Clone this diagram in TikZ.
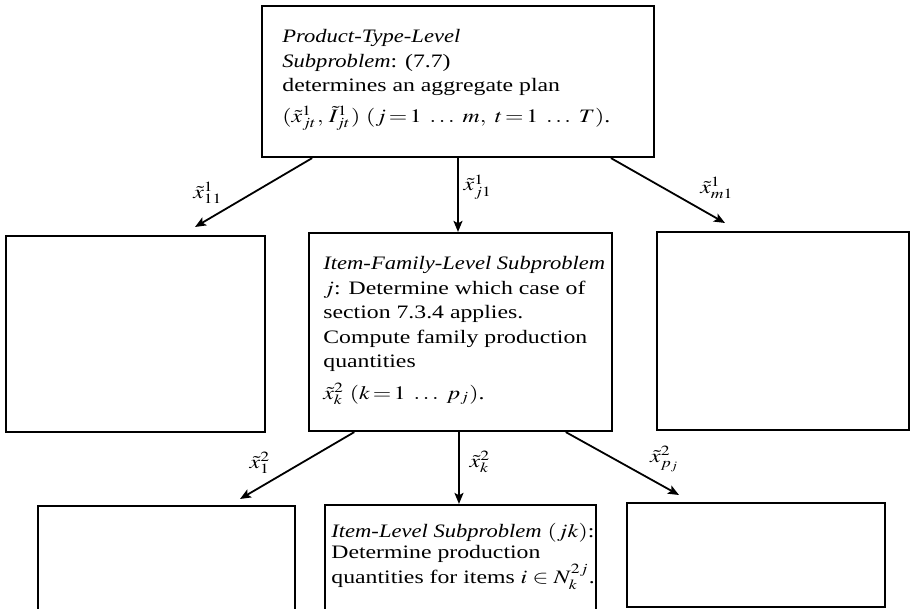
\documentclass[tikz,border=0pt]{standalone}
\usepackage{mathptmx}
\usepackage[no-math]{fontspec}
\setmainfont{Liberation Serif}
\usepackage{graphicx}
\usetikzlibrary{arrows.meta,calc}
\newcommand\wbox[1]{\scalebox{1.25}[1]{#1}}
\newcommand\itx[1]{\scalebox{0.95}[1]{\textit{#1}}}
\tikzset{
  boxnode/.style={draw, line width=1.1pt, inner sep=0pt},
  txt/.style={anchor=north west, inner sep=0pt, font=\fontsize{9.5}{12.25}\selectfont},
  lbl/.style={inner sep=0pt, font=\fontsize{9.5}{11.9}\selectfont},
  arr/.style={line width=0.9pt, -{Stealth[length=5.5pt,width=4.5pt,inset=1.2pt]}}
}
\begin{document}
\begin{tikzpicture}[x=0.5pt,y=-0.5pt]
\clip (0,0) rectangle (912,609);
\fill[white] (0,0) rectangle (912,609);
% boxes
\node[boxnode, minimum width=196pt, minimum height=75.5pt] (top) at (458,81.5) {};
\node[boxnode, minimum width=129.5pt, minimum height=98pt] (lm) at (135.5,334) {};
\node[boxnode, minimum width=151.5pt, minimum height=99pt] (mm) at (460.5,332) {};
\node[boxnode, minimum width=126pt, minimum height=99pt] (rm) at (783,331) {};
\node[boxnode, minimum width=128.5pt, minimum height=67pt] (lb) at (166.5,573) {};
\node[boxnode, minimum width=135.5pt, minimum height=67.5pt] (mb) at (460.5,572.5) {};
\node[boxnode, minimum width=129pt, minimum height=52pt] (rb) at (756,555) {};
% texts
\node[txt] (ttop) at (282,25) {\wbox{\begin{tabular}{@{}l@{}}
\itx{Product-Type-Level}\\
\itx{Subproblem}: (7.7)\\
determines an aggregate plan\\[3pt]
$(\tilde{x}^{1}_{jt},\, \tilde{I}^{1}_{jt})\ (j\,{=}\,1\;\ldots\;m,\ t\,{=}\,1\;\ldots\;T)$.
\end{tabular}}};
\node[txt] (tmm) at (323,252) {\wbox{\begin{tabular}{@{}l@{}}
\itx{Item-Family-Level Subproblem}\\
$j$: Determine which case of\\
section 7.3.4 applies.\\
Compute family production\\
quantities\\[3.5pt]
$\tilde{x}^{2}_{k}\ (k\,{=}\,1\;\ldots\;p_j)$.
\end{tabular}}};
\node[txt, font=\fontsize{9.5}{10.5}\selectfont] (tmb) at (331,522) {\wbox{\begin{tabular}{@{}l@{}}
\itx{Item-Level Subproblem} $(jk)$:\\
Determine production\\
quantities for items $i\in N^{2j}_{k}$.
\end{tabular}}};
% connector end points
\coordinate (s1) at ($(top.south west)!0.13!(top.south east)$);
\coordinate (s2) at ($(top.south west)!0.5!(top.south east)$);
\coordinate (s3) at ($(top.south west)!0.888!(top.south east)$);
\coordinate (e1) at (195,227);
\coordinate (e3) at (725,223);
\coordinate (u1) at ($(mm.south west)!0.152!(mm.south east)$);
\coordinate (u2) at ($(mm.south west)!0.495!(mm.south east)$);
\coordinate (u3) at ($(mm.south west)!0.845!(mm.south east)$);
\coordinate (f1) at (240,499);
\coordinate (f3) at (679,495);
% connectors
\draw[arr] (s1) -- (e1);
\draw[arr] (s2) -- (s2 |- mm.north);
\draw[arr] (s3) -- (e3);
\draw[arr] (u1) -- (f1);
\draw[arr] (u2) -- (u2 |- mb.north);
\draw[arr] (u3) -- (f3);
% labels
\node[lbl] (l1) at (208,193) {\wbox{$\tilde{x}^{1}_{11}$}};
\node[lbl] (l2) at (478,187) {\wbox{$\tilde{x}^{1}_{j1}$}};
\node[lbl] (l3) at (717,188) {\wbox{$\tilde{x}^{1}_{m1}$}};
\node[lbl] (l4) at (260,463) {\wbox{$\tilde{x}^{2}_{1}$}};
\node[lbl] (l5) at (480,462) {\wbox{$\tilde{x}^{2}_{k}$}};
\node[lbl] (l6) at (665,459) {\wbox{$\tilde{x}^{2}_{p_j}$}};
\end{tikzpicture}
\end{document}
